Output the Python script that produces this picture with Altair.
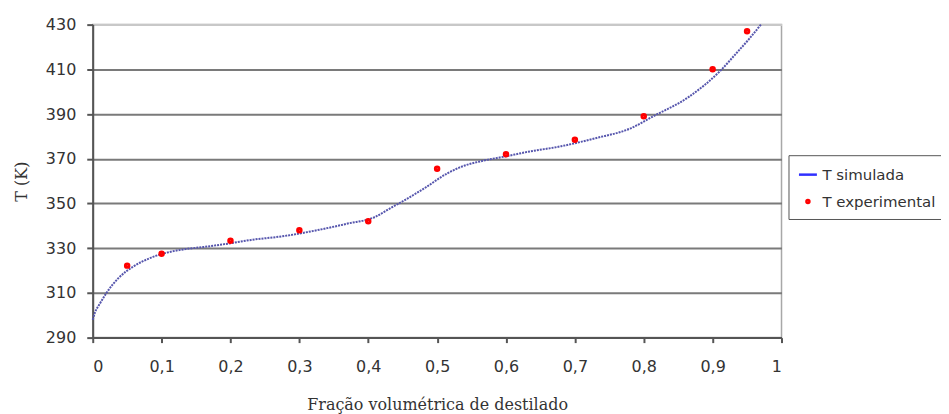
import altair as alt
import pandas as pd

# Simulated curve
sim_x = [0.0, 0.003, 0.01, 0.02, 0.037, 0.06, 0.085, 0.11, 0.135, 0.16, 0.2, 0.23,
         0.275, 0.325, 0.37, 0.41, 0.43, 0.45, 0.48, 0.515, 0.535, 0.565, 0.6, 0.63,
         0.68, 0.73, 0.78, 0.815, 0.865, 0.91, 0.935, 0.953, 0.97]
sim_t = [298, 301, 305, 310, 316.5, 322, 325.8, 328.2, 329.6, 330.5, 332.2, 333.7,
         335.3, 338, 341, 344, 347.5, 351, 356.5, 363.5, 366.4, 369, 371.1, 373,
         375.6, 379.2, 383.5, 389.2, 397.6, 409, 417.4, 423.6, 430]

# Experimental points
exp_x = [0.05, 0.1, 0.2, 0.3, 0.4, 0.5, 0.6, 0.7, 0.8, 0.9, 0.95]
exp_t = [322.2, 327.5, 333.3, 338, 342, 365.5, 372, 378.5, 389, 410, 427]

series_names = ["T simulada", "T experimental"]
x_ticks = [0, 0.1, 0.2, 0.3, 0.4, 0.5, 0.6, 0.7, 0.8, 0.9, 1]
y_ticks = [290, 310, 330, 350, 370, 390, 410, 430]

sim_df = pd.DataFrame({"x": sim_x, "T": sim_t, "serie": series_names[0]})
exp_df = pd.DataFrame({"x": exp_x, "T": exp_t, "serie": series_names[1]})

x_enc = alt.X("x:Q", scale=alt.Scale(domain=[0, 1], nice=False),
              axis=alt.Axis(values=x_ticks, grid=False,
                            title="Fração volumétrica de destilado",
                            labelExpr="replace(format(datum.value, '.1~f'), '.', ',')",
                            tickSize=5, labelPadding=16, titlePadding=22))
y_enc = alt.Y("T:Q", scale=alt.Scale(domain=[290, 430], nice=False, zero=False),
              axis=alt.Axis(values=y_ticks, title="T  (K)", tickSize=6,
                            labelPadding=11, titlePadding=16,
                            gridColor={"condition": {"test": "datum.value == 430", "value": "#c8c8c8"},
                                       "value": "#7a7a7a"}))

line = alt.Chart(sim_df).mark_line(color="#5656ad", strokeWidth=2, strokeDash=[2, 1],
                                   interpolate="monotone").encode(
    x=x_enc, y=y_enc
)

legend = alt.Legend(
    title=None, orient="none", legendX=698, legendY=131,
    padding=9, rowPadding=11, labelOffset=4,
    labelFont="DejaVu Sans", labelFontSize=15, labelColor="#333333",
    strokeColor="#555555", symbolStrokeWidth=2.5,
)

points = alt.Chart(exp_df).mark_point(filled=False, opacity=1, strokeWidth=3.5).encode(
    x=x_enc, y=y_enc,
    color=alt.Color("serie:N", scale=alt.Scale(domain=series_names, range=["#3030ff", "red"]),
                    legend=legend),
    shape=alt.Shape("serie:N", scale=alt.Scale(domain=series_names, range=["stroke", "circle"]),
                    legend=legend),
    size=alt.Size("serie:N", scale=alt.Scale(domain=series_names, range=[324, 9]),
                  legend=legend),
)

chart = alt.layer(line, points).properties(
    width=691, height=314,
    autosize=alt.AutoSizeParams(type="none"),
    padding={"left": 85, "top": 16, "right": 160, "bottom": 90},
).configure_view(
    stroke="#a8a8a8", strokeWidth=1.5
).configure_axis(
    labelFont="DejaVu Sans", labelFontSize=16, labelColor="#333333",
    titleFont="DejaVu Serif", titleFontSize=16, titleFontWeight="normal", titleColor="#333333",
    domainColor="#555555", domainWidth=2, tickColor="#555555", tickWidth=2,
    gridWidth=2,
)

chart.save("out.html", embed_options={"renderer": "svg", "actions": False})
